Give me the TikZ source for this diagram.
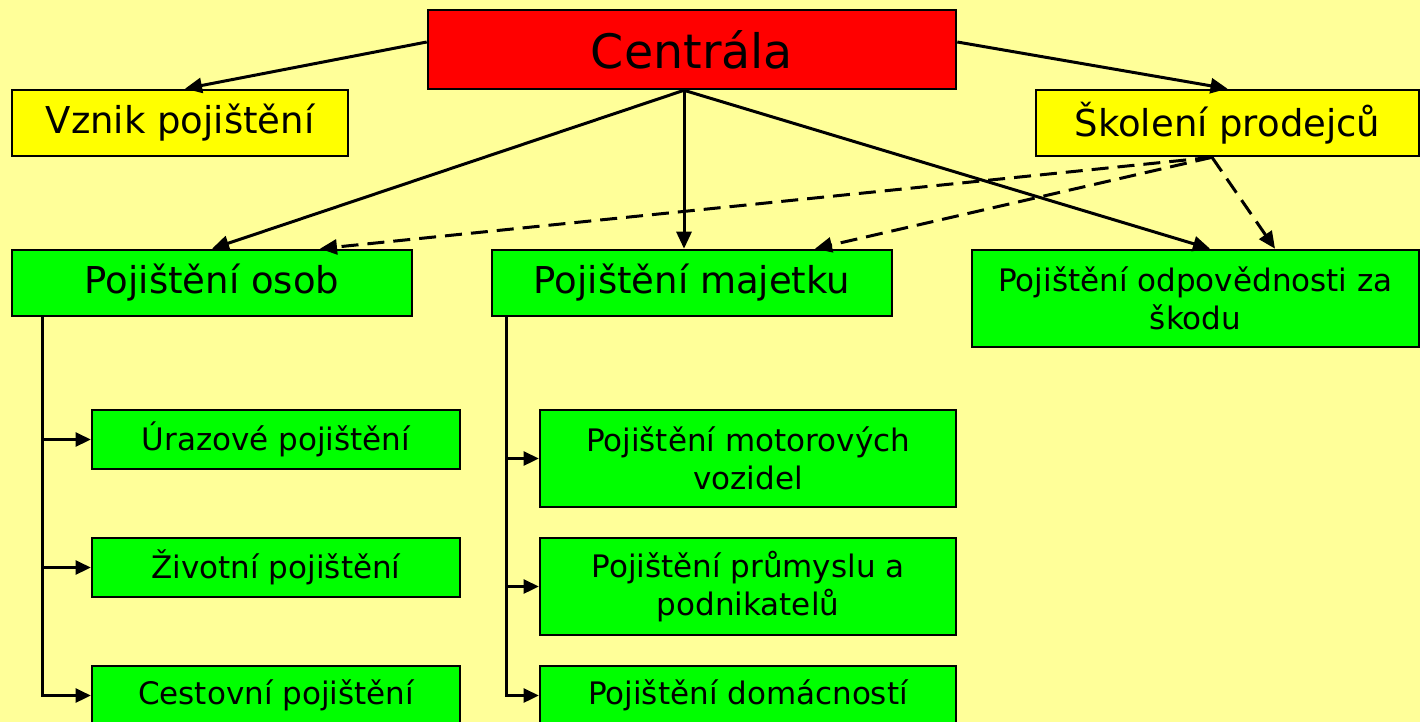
\documentclass[tikz,border=0pt]{standalone}
\usepackage{fontspec}
\setmainfont{DejaVu Sans}
\usetikzlibrary{arrows.meta}
\definecolor{bg}{HTML}{FFFF99}
\definecolor{gr}{HTML}{00FF00}
\definecolor{rd}{HTML}{FF0000}
\definecolor{yl}{HTML}{FFFF00}
\begin{document}
\begin{tikzpicture}[x=1pt,y=-1pt,
  box/.style={draw=black,line width=2.6pt,rectangle,inner sep=0pt,align=center},
  big/.style={box,font=\fontsize{37}{44}\selectfont},
  small/.style={box,font=\fontsize{31}{38}\selectfont},
  arr/.style={line width=3pt,-{Triangle[length=17pt,width=15pt]}},
  darr/.style={arr,dash pattern=on 17pt off 9pt}]
\fill[bg] (0,0) rectangle (1420,722);
\useasboundingbox (0,0) rectangle (1420,722);
\clip (0,0) rectangle (1420,722);
\node[box,fill=rd,minimum width=528pt,minimum height=79pt,font=\fontsize{47.5}{56}\selectfont] (centrala) at (692,49.5) {Centrála};
\node[big,fill=yl,minimum width=336pt,minimum height=66pt] (vznik) at (180,123) {Vznik pojištění};
\node[big,fill=yl,minimum width=383pt,minimum height=66pt] (skoleni) at (1227.5,123) {Školení prodejců};
\node[big,fill=gr,minimum width=400pt,minimum height=66pt] (osob) at (212,283) {Pojištění osob};
\node[big,fill=gr,minimum width=400pt,minimum height=66pt] (majetku) at (692,283) {Pojištění majetku};
\node[small,fill=gr,minimum width=447pt,minimum height=97pt] (odpov) at (1195.5,298.5) {Pojištění odpovědnosti za\\škodu};
\node[small,fill=gr,minimum width=368pt,minimum height=59pt] (uraz) at (276,439.5) {Úrazové pojištění};
\node[small,fill=gr,minimum width=368pt,minimum height=59pt] (zivot) at (276,567.5) {Životní pojištění};
\node[small,fill=gr,minimum width=368pt,minimum height=59pt] (cest) at (276,695.5) {Cestovní pojištění};
\node[small,fill=gr,minimum width=416pt,minimum height=97pt] (motor) at (748,458.5) {Pojištění motorových\\vozidel};
\node[small,fill=gr,minimum width=416pt,minimum height=97pt] (prum) at (748,586.5) {Pojištění průmyslu a\\podnikatelů};
\node[small,fill=gr,minimum width=416pt,minimum height=59pt] (domac) at (748,695.5) {Pojištění domácností};
% main arrows
\draw[arr] ([yshift=7.5pt]centrala.west) -- ([xshift=5pt]vznik.north);
\draw[arr] ([yshift=7.5pt]centrala.east) -- (skoleni.north);
\draw[arr] ([xshift=-8pt]centrala.south) -- (osob.north);
\draw[arr] ([xshift=-8pt]centrala.south) -- ([xshift=-8pt]majetku.north);
\draw[arr] ([xshift=-8pt]centrala.south) -- ([xshift=14.5pt]odpov.north);
% dashed arrows
\draw[darr] ([xshift=-15.5pt]skoleni.south) -- ([xshift=108pt]osob.north);
\draw[darr] ([xshift=-15.5pt]skoleni.south) -- ([xshift=123pt]majetku.north);
\draw[darr] ([xshift=-15.5pt]skoleni.south) -- ([xshift=79.5pt]odpov.north);
% branch lines
\tikzset{barr/.style={line width=2.6pt,-{Triangle[length=15pt,width=14pt]}}}
\draw[barr] ([xshift=32pt]osob.south west) |- (uraz.west);
\draw[barr] ([xshift=32pt]osob.south west) |- (zivot.west);
\draw[barr] ([xshift=32pt]osob.south west) |- (cest.west);
\draw[barr] ([xshift=16pt]majetku.south west) |- (motor.west);
\draw[barr] ([xshift=16pt]majetku.south west) |- (prum.west);
\draw[barr] ([xshift=16pt]majetku.south west) |- (domac.west);
\end{tikzpicture}
\end{document}
